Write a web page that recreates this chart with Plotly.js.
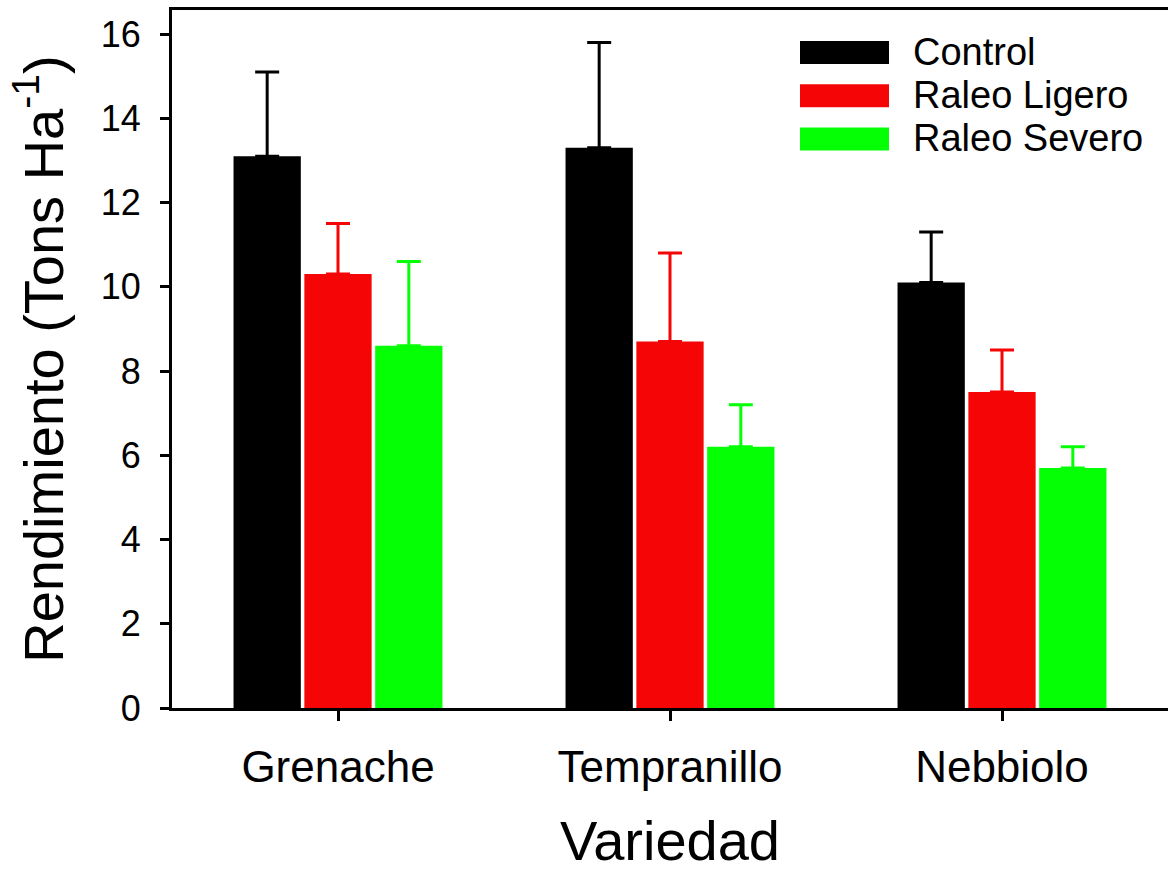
<!DOCTYPE html>
<html>
<head>
<meta charset="utf-8">
<script src="https://cdn.plot.ly/plotly-3.0.1.min.js"></script>
<style>html,body{margin:0;padding:0;background:#fff;}#chart{width:1168px;height:872px;}</style>
</head>
<body>
<div id="chart"></div>
<script>
const categories = ["Grenache", "Tempranillo", "Nebbiolo"];
const seriesNames = ["Control", "Raleo Ligero", "Raleo Severo"];
const seriesColors = ["#000000", "#f50505", "#05ff05"];
const controlValues = [13.1, 13.3, 10.1];
const controlErrors = [2.0, 2.5, 1.2];
const ligeroValues = [10.3, 8.7, 7.5];
const ligeroErrors = [1.2, 2.1, 1.0];
const severoValues = [8.6, 6.2, 5.7];
const severoErrors = [2.0, 1.0, 0.5];
const yTicks = [0, 2, 4, 6, 8, 10, 12, 14, 16];

const values = [controlValues, ligeroValues, severoValues];
const errors = [controlErrors, ligeroErrors, severoErrors];

const FONT = "Arial, 'Liberation Sans', sans-serif";

const traces = seriesNames.map((name, i) => ({
  type: "bar",
  name: name,
  x: categories,
  y: values[i],
  marker: {color: seriesColors[i], line: {width: 0}},
  error_y: {
    type: "data",
    symmetric: false,
    array: errors[i],
    arrayminus: errors[i].map(() => 0),
    color: seriesColors[i],
    thickness: 3,
    width: 12
  },
  showlegend: false,
  hoverinfo: "skip"
}));

// plot area in pixels
const L = 172, R = 1168, T = 10, B = 708;
const W = R - L, H = B - T;
const px = v => (v - L) / W;
const py = v => (B - v) / H;

const shapes = [];
const annotations = [];
const legX0 = 800, legX1 = 889, legTop0 = 41, legH = 23, legStep = 43.3, legTextX = 911;
seriesNames.forEach((name, i) => {
  const top = legTop0 + i * legStep;
  shapes.push({
    type: "rect", xref: "paper", yref: "paper",
    x0: px(legX0), x1: px(legX1), y0: py(top + legH), y1: py(top),
    fillcolor: seriesColors[i], line: {width: 0}
  });
  annotations.push({
    xref: "paper", yref: "paper", x: px(legTextX), y: py(top + legH / 2 - 1),
    xanchor: "left", yanchor: "middle", showarrow: false,
    text: name, font: {family: FONT, size: 38, color: "#000"}
  });
});

const layout = {
  width: 1168, height: 872,
  margin: {l: L, r: 1168 - R, t: T, b: 872 - B, pad: 0},
  paper_bgcolor: "#fff", plot_bgcolor: "#fff",
  barmode: "group",
  bargap: 0.36,
  bargroupgap: 0.05,
  font: {family: FONT, color: "#000"},
  xaxis: {
    type: "category",
    categoryorder: "array", categoryarray: categories,
    range: [-0.5, 2.5],
    showline: true, linecolor: "#000", linewidth: 3, mirror: true,
    ticks: "outside", ticklen: 10, tickwidth: 3, tickcolor: "#000",
    ticklabelstandoff: 8,
    tickfont: {family: FONT, size: 44, color: "#000"},
    showgrid: false, zeroline: false,
    title: {text: "Variedad", font: {family: FONT, size: 56, color: "#000"}, standoff: 36}
  },
  yaxis: {
    range: [0, 16.57],
    tickvals: yTicks, ticktext: yTicks.map(String),
    showline: true, linecolor: "#000", linewidth: 3,
    ticks: "outside", ticklen: 9, tickwidth: 3, tickcolor: "#000",
    ticklabelstandoff: 12,
    tickfont: {family: FONT, size: 36, color: "#000"},
    showgrid: false, zeroline: false,
    title: {text: "Rendimiento (Tons Ha<sup>-1</sup>)", font: {family: FONT, size: 56, color: "#000"}, standoff: 20}
  },
  shapes: shapes,
  annotations: annotations
};

Plotly.newPlot("chart", traces, layout, {displayModeBar: false, staticPlot: true});
</script>
</body>
</html>
